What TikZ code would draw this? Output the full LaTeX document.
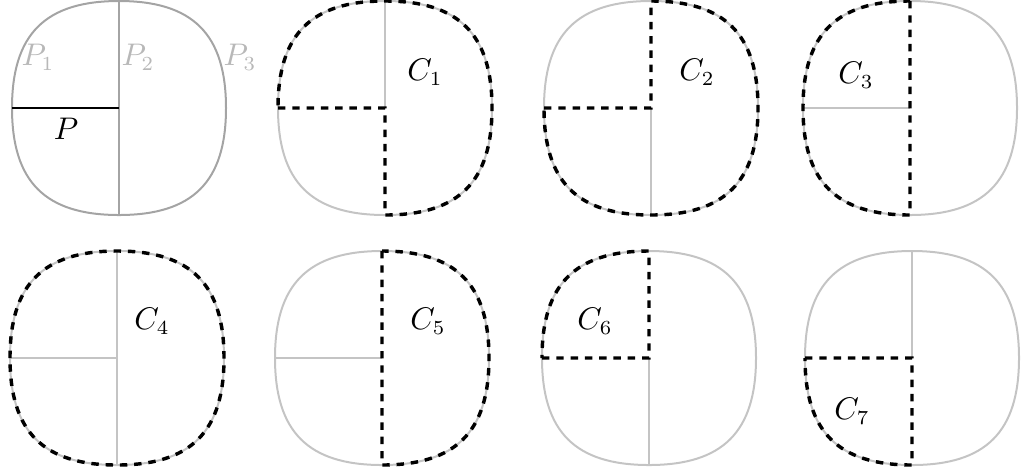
\documentclass[tikz,border=0pt]{standalone}
\definecolor{outlinedark}{HTML}{A4A4A4}
\definecolor{outlinelight}{HTML}{C4C4C4}
\definecolor{labelgray}{HTML}{B8B8B8}
\tikzset{
  outd/.style={draw=outlinedark, line width=0.7pt},
  outl/.style={draw=outlinelight, line width=0.7pt},
  cutdash/.style={draw=black, line width=1.2pt, dash pattern=on 2.6pt off 2.4pt, line join=miter},
  solidcut/.style={draw=black, line width=1pt},
  lbl/.style={inner sep=0pt, font=\fontsize{10.7}{13}\selectfont},
  glbl/.style={lbl, text=labelgray},
}
% quadrant arcs of a rounded square of half-size 107 around (0,0); y axis points down
\newcommand\sqLT{.. controls (-107,-73.8) and (-73.8,-107) .. (0,-107)}
\newcommand\sqTR{.. controls (73.8,-107) and (107,-73.8) .. (107,0)}
\newcommand\sqRB{.. controls (107,73.8) and (73.8,107) .. (0,107)}
\newcommand\sqBL{.. controls (-73.8,107) and (-107,73.8) .. (-107,0)}
\newcommand\sqTL{.. controls (-73.8,-107) and (-107,-73.8) .. (-107,0)}
\newcommand\sqRT{.. controls (107,-73.8) and (73.8,-107) .. (0,-107)}
\newcommand\sqBR{.. controls (73.8,107) and (107,73.8) .. (107,0)}
\newcommand\sqLB{.. controls (-107,73.8) and (-73.8,107) .. (0,107)}
\begin{document}
\begin{tikzpicture}[x=0.35pt,y=-0.35pt]
\useasboundingbox (0,0) rectangle (1021,472);
\coordinate (c0) at (119,108);
\coordinate (c1) at (385,108);
\coordinate (c2) at (651,108);
\coordinate (c3) at (910,108);
\coordinate (c4) at (117,358);
\coordinate (c5) at (382,358);
\coordinate (c6) at (649,358);
\coordinate (c7) at (912,358);
% P
\begin{scope}[shift={(c0)}]
  \draw[outd] (-107,0) \sqLT \sqTR \sqRB \sqBL -- cycle;
  \draw[outd] (0,-107) -- (0,107);
  \draw[solidcut] (-107,0) -- (0,0);
\end{scope}
% C1
\begin{scope}[shift={(c1)}]
  \draw[outl] (-107,0) \sqLT \sqTR \sqRB \sqBL -- cycle;
  \draw[outl] (0,-107) -- (0,0);
  \draw[cutdash] (-107,0) -- (0,0) -- (0,107) \sqBR \sqRT \sqTL -- cycle;
\end{scope}
% C2
\begin{scope}[shift={(c2)}]
  \draw[outl] (-107,0) \sqLT \sqTR \sqRB \sqBL -- cycle;
  \draw[outl] (0,0) -- (0,107);
  \draw[cutdash] (-107,0) -- (0,0) -- (0,-107) \sqTR \sqRB \sqBL -- cycle;
\end{scope}
% C3
\begin{scope}[shift={(c3)}]
  \draw[outl] (-107,0) \sqLT \sqTR \sqRB \sqBL -- cycle;
  \draw[outl] (-107,0) -- (0,0);
  \draw[cutdash] (0,-107) -- (0,107) \sqBL \sqLT -- cycle;
\end{scope}
% C4
\begin{scope}[shift={(c4)}]
  \draw[outl] (-107,0) \sqLT \sqTR \sqRB \sqBL -- cycle;
  \draw[outl] (0,-107) -- (0,107);
  \draw[outl] (-107,0) -- (0,0);
  \draw[cutdash] (-107,0) \sqLT \sqTR \sqRB \sqBL -- cycle;
\end{scope}
% C5
\begin{scope}[shift={(c5)}]
  \draw[outl] (-107,0) \sqLT \sqTR \sqRB \sqBL -- cycle;
  \draw[outl] (-107,0) -- (0,0);
  \draw[cutdash] (0,-107) -- (0,107) \sqBR \sqRT -- cycle;
\end{scope}
% C6
\begin{scope}[shift={(c6)}]
  \draw[outl] (-107,0) \sqLT \sqTR \sqRB \sqBL -- cycle;
  \draw[outl] (0,0) -- (0,107);
  \draw[cutdash] (-107,0) -- (0,0) -- (0,-107) \sqTL -- cycle;
\end{scope}
% C7
\begin{scope}[shift={(c7)}]
  \draw[outl] (-107,0) \sqLT \sqTR \sqRB \sqBL -- cycle;
  \draw[outl] (0,-107) -- (0,0);
  \draw[cutdash] (-107,0) -- (0,0) -- (0,107) \sqBL -- cycle;
\end{scope}
% labels
\node[glbl] (p1) at (38,57) {$P_1$};
\node[glbl] (p2) at (138,57) {$P_2$};
\node[glbl] (p3) at (240,57) {$P_3$};
\node[lbl] (p) at (66,129) {$P$};
\node[lbl] (l1) at (425,72) {$C_1$};
\node[lbl] (l2) at (697,72) {$C_2$};
\node[lbl] (l3) at (856,75) {$C_3$};
\node[lbl] (l4) at (152,321) {$C_4$};
\node[lbl] (l5) at (428,321) {$C_5$};
\node[lbl] (l6) at (595,321) {$C_6$};
\node[lbl] (l7) at (852,411) {$C_7$};
\end{tikzpicture}
\end{document}
